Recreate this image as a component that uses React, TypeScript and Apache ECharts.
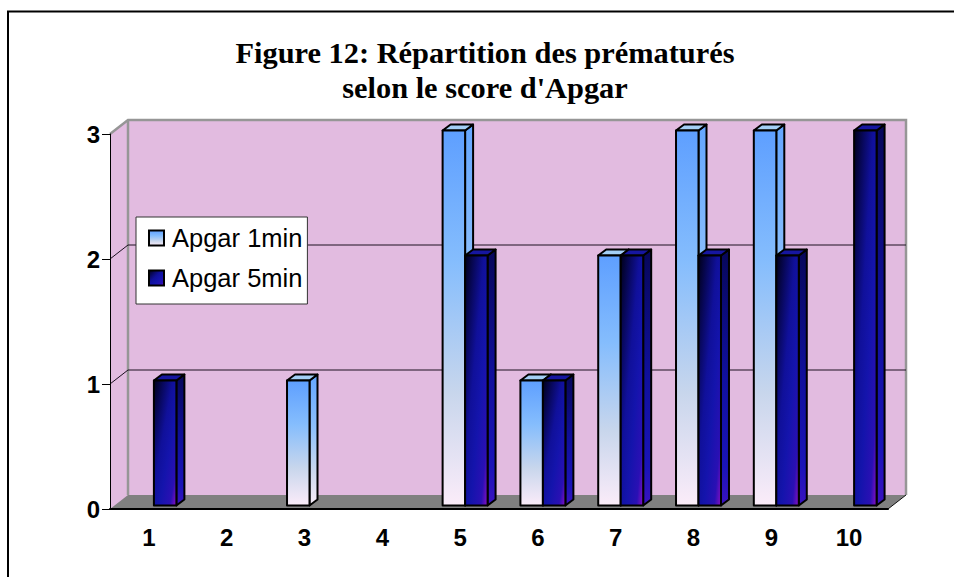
import React, { useEffect, useRef } from "react";
import * as echarts from "echarts";

const titleLines = ["Figure 12: Répartition des prématurés", "selon le score d'Apgar"];
const categories = ["1", "2", "3", "4", "5", "6", "7", "8", "9", "10"];
const apgar1 = [0, 0, 1, 0, 3, 1, 2, 3, 3, 0];
const apgar5 = [1, 0, 0, 0, 2, 1, 2, 2, 2, 3];
const gridValues = [1, 2];

const DX = 18, DY = -14;
const BAR_DX = 8, BAR_DY = -6;

const grad = (x2: number, y2: number, stops: [number, string][]) =>
  new echarts.graphic.LinearGradient(0, 0, x2, y2, stops.map(([offset, color]) => ({ offset, color })));

const lightFront = () => grad(0, 1, [[0, "#5e9fff"], [0.35, "#85bdfd"], [0.7, "#c8d6ec"], [1, "#fbecf9"]]);
const lightSide = () => grad(0, 1, [[0, "#64a6ff"], [0.4, "#8dc0fc"], [0.75, "#cdd9ee"], [1, "#f8ecf8"]]);
const darkFront = () => grad(1, 1, [[0, "#000018"], [0.22, "#08085e"], [0.42, "#10109a"], [0.62, "#1414ac"], [0.85, "#2a10b4"], [1, "#8c10c4"]]);
const darkSide = () => grad(0, 1, [[0, "#07075a"], [0.5, "#10109c"], [0.85, "#1a14b8"], [1, "#3a12c0"]]);

const edge = { stroke: "#000", lineWidth: 2, lineJoin: "round" };

const barSeries = (name: string, values: number[], slot: number, front: () => any, side: () => any, top: string) => ({
  type: "custom",
  name,
  z: 4,
  clip: false,
  encode: { x: 0, y: 1 },
  data: values.map((v, i) => [i, v]),
  itemStyle: { color: front(), borderColor: "#000", borderWidth: 2 },
  renderItem: (_: any, api: any) => {
    const v = api.value(1);
    if (!v) return null;
    const [cx, yTop0] = api.coord([api.value(0), v]);
    const [, yBase0] = api.coord([api.value(0), 0]);
    const band = api.size([1, 0])[0];
    const w = band * 0.289;
    const x0 = cx + 5 + slot * w;
    const x1 = x0 + w;
    const yTop = yTop0 - 3.5;
    const yBase = yBase0 - 3.5;
    return {
      type: "group",
      children: [
        {
          type: "polygon",
          shape: { points: [[x1, yTop], [x1 + BAR_DX, yTop + BAR_DY], [x1 + BAR_DX, yBase + BAR_DY], [x1, yBase]] },
          style: { fill: side(), ...edge },
        },
        {
          type: "polygon",
          shape: { points: [[x0, yTop], [x0 + BAR_DX, yTop + BAR_DY], [x1 + BAR_DX, yTop + BAR_DY], [x1, yTop]] },
          style: { fill: top, ...edge },
        },
        { type: "rect", shape: { x: x0, y: yTop, width: w, height: yBase - yTop }, style: { fill: front(), ...edge } },
      ],
    };
  },
});

const wallSeries = {
  type: "custom",
  name: "wall",
  z: 1,
  clip: false,
  silent: true,
  data: [[0, 0]],
  encode: { x: 0, y: 1 },
  renderItem: (params: any, api: any) => {
    const { x, width } = params.coordSys;
    const xr = x + width;
    const y0 = api.coord([0, 0])[1];
    const y3 = api.coord([0, 3])[1];
    const backBorder = { stroke: "#969696", lineWidth: 2.5, fill: "none" };
    const children: any[] = [
      { type: "polygon", shape: { points: [[x, y3], [x + DX, y3 + DY], [xr + DX, y3 + DY], [xr + DX, y0 + DY], [x, y0]] }, style: { fill: "#e2bbe0" } },
      { type: "polygon", shape: { points: [[x, y0], [x + DX, y0 + DY], [xr + DX, y0 + DY], [xr, y0]] }, style: { fill: "#808080" } },
      { type: "polyline", shape: { points: [[x, y3], [x + DX, y3 + DY], [xr + DX, y3 + DY], [xr + DX, y0 + DY]] }, style: backBorder },
      { type: "line", shape: { x1: x + DX, y1: y3 + DY, x2: x + DX, y2: y0 + DY }, style: backBorder },
      { type: "line", shape: { x1: xr, y1: y0, x2: xr + DX, y2: y0 + DY }, style: { stroke: "#111", lineWidth: 1 } },
    ];
    gridValues.forEach((v) => {
      const y = api.coord([0, v])[1];
      children.push({ type: "polyline", shape: { points: [[x, y], [x + DX, y + DY], [xr + DX, y + DY]] }, style: { stroke: "#1c1020", lineWidth: 1, fill: "none" } });
    });
    return { type: "group", children };
  },
};

export default function App() {
  const ref = useRef<HTMLDivElement>(null);
  useEffect(() => {
    const chart = echarts.init(ref.current!, undefined, { renderer: "svg" });
    chart.setOption({
      animation: false,
      backgroundColor: "#ffffff",
      title: {
        text: titleLines.join("\n"),
        left: 480,
        top: 30,
        textAlign: "center",
        textStyle: { fontFamily: "Liberation Serif", fontWeight: "bold", fontSize: 30.4, lineHeight: 35, color: "#000" },
      },
      grid: { left: 110, right: 66, top: 134, bottom: 68 },
      legend: {
        data: ["Apgar 1min", "Apgar 5min"],
        orient: "vertical",
        left: 136,
        top: 217,
        z: 10,
        padding: [8, 5, 13, 12],
        itemGap: 14,
        itemWidth: 15,
        itemHeight: 15,
        backgroundColor: "#fff",
        borderColor: "#333",
        borderWidth: 1,
        icon: "rect",
        textStyle: { fontFamily: "Liberation Sans", fontSize: 25.5, color: "#000", padding: [0, 0, 0, 3] },
      },
      xAxis: {
        type: "category",
        data: categories,
        z: 3,
        axisLine: { lineStyle: { color: "#000", width: 2 } },
        axisTick: { length: 7, lineStyle: { color: "#000", width: 1 } },
        axisLabel: { fontFamily: "Liberation Sans", fontWeight: "bold", fontSize: 24, color: "#000", margin: 16 },
        splitLine: { show: false },
      },
      yAxis: {
        type: "value",
        min: 0,
        max: 3,
        interval: 1,
        z: 3,
        axisLine: { show: true, lineStyle: { color: "#000", width: 1 } },
        axisTick: { show: true, length: 8, lineStyle: { color: "#000", width: 1 } },
        axisLabel: { fontFamily: "Liberation Sans", fontWeight: "bold", fontSize: 24, color: "#000", margin: 10 },
        splitLine: { show: false },
      },
      series: [
        wallSeries,
        barSeries("Apgar 1min", apgar1, -1, lightFront, lightSide, "#a4cff6"),
        barSeries("Apgar 5min", apgar5, 0, darkFront, darkSide, "#1616a0"),
      ],
      graphic: [
        {
          type: "polyline",
          silent: true,
          z: 20,
          shape: { points: [[8, 577], [8, 11.5], [954, 11.5]] },
          style: { stroke: "#000", lineWidth: 2, fill: "none" },
        },
      ],
    });
    return () => chart.dispose();
  }, []);
  return <div ref={ref} style={{ position: "absolute", left: 0, top: 0, width: 954, height: 577 }} />;
}
